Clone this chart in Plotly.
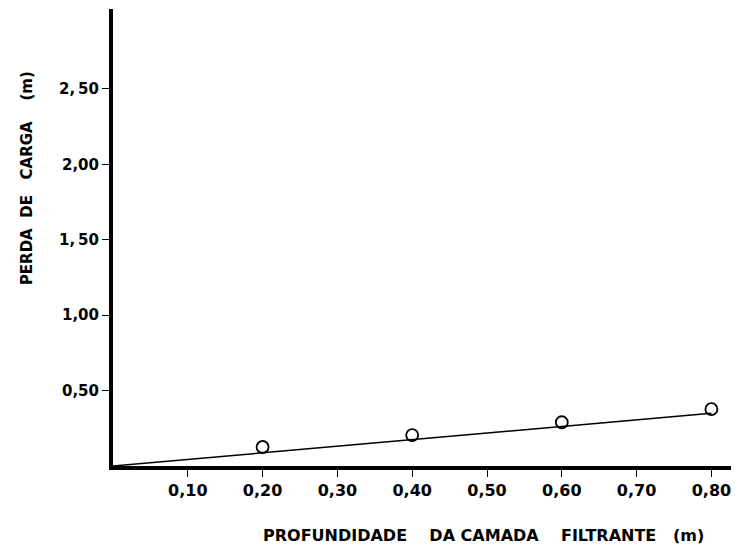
import plotly.graph_objects as go

# measured points (profundidade x perda de carga)
depth = [0.20, 0.40, 0.60, 0.80]
head_loss = [0.126, 0.205, 0.29, 0.377]

# fitted line
fit_x = [0.0, 0.80]
fit_y = [0.0, 0.35]

xticks = [0.1, 0.2, 0.3, 0.4, 0.5, 0.6, 0.7, 0.8]
xticklabels = ["0,10", "0,20", "0,30", "0,40", "0,50", "0,60", "0,70", "0,80"]
yticks = [0.5, 1.0, 1.5, 2.0, 2.5]
yticklabels = ["0,50", "1,00", "1,\u200950", "2,00", "2,\u200950"]

font = "DejaVu Sans"
nb = "\u00a0"

fig = go.Figure()

fig.add_trace(go.Scatter(
    x=fit_x, y=fit_y,
    mode="lines",
    line=dict(color="black", width=1.5),
    showlegend=False
))

fig.add_trace(go.Scatter(
    x=depth, y=head_loss,
    mode="markers",
    marker=dict(symbol="circle-open", size=12, color="black", line=dict(width=1.8)),
    showlegend=False
))

fig.update_layout(
    width=739, height=550,
    margin=dict(l=105, r=0, t=1, b=92),
    plot_bgcolor="white",
    paper_bgcolor="white",
    xaxis=dict(
        range=[0, 0.8476],
        showgrid=False, zeroline=False,
        showline=True, linecolor="black", linewidth=3.5,
        ticks="outside", ticklen=7, tickwidth=1, tickcolor="black",
        tickvals=xticks, ticktext=xticklabels,
        tickfont=dict(family=font, size=16, color="black", weight="bold"),
    ),
    yaxis=dict(
        range=[0, 3.03],
        showgrid=False, zeroline=False,
        showline=True, linecolor="black", linewidth=4,
        ticks="outside", ticklen=7, tickwidth=1, tickcolor="black",
        tickvals=yticks, ticktext=yticklabels,
        tickfont=dict(family=font, size=15, color="black", weight="bold"),
    ),
    annotations=[
        dict(
            text="PERDA" + nb * 2 + "DE" + nb * 3 + "CARGA" + nb * 4 + "(m)",
            xref="paper", yref="paper", x=-0.1356, y=0.630,
            textangle=-90, showarrow=False,
            xanchor="center", yanchor="middle",
            font=dict(family=font, size=15, color="black", weight="bold"),
        ),
        dict(
            text="PROFUNDIDADE" + nb * 4 + "DA" + nb + "CAMADA" + nb * 4 + "FILTRANTE" + nb * 3 + "(m)",
            xref="paper", yref="paper", x=0.584, y=-0.153,
            showarrow=False,
            xanchor="center", yanchor="middle",
            font=dict(family=font, size=16, color="black", weight="bold"),
        ),
    ],
)

fig.write_html("out.html")
